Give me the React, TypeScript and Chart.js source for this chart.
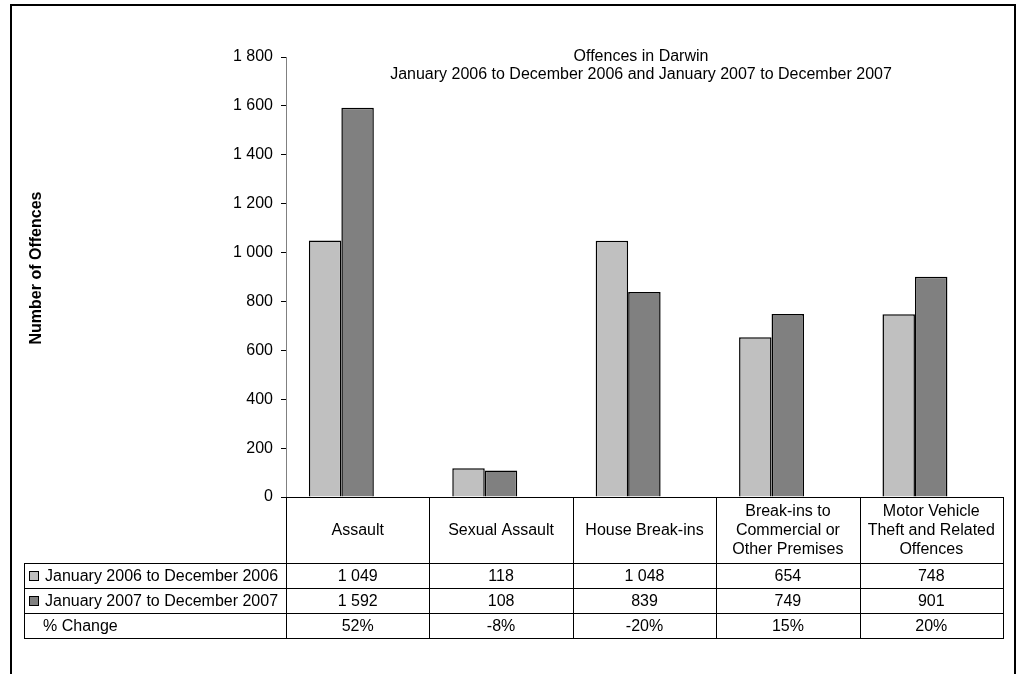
import React, { useEffect, useRef } from 'react';
import { Chart, registerables } from 'chart.js';

Chart.register(...registerables);

const FONT = '"Liberation Sans", Arial, sans-serif';

const categories: string[][] = [
  ['Assault'],
  ['Sexual Assault'],
  ['House Break-ins'],
  ['Break-ins to', 'Commercial or', 'Other Premises'],
  ['Motor Vehicle', 'Theft and Related', 'Offences'],
];
const seriesNames = ['January 2006 to December 2006', 'January 2007 to December 2007'];
const values2006 = [1049, 118, 1048, 654, 748];
const values2007 = [1592, 108, 839, 749, 901];
const pctChange = ['52%', '-8%', '-20%', '15%', '20%'];
const pctLabel = '% Change';
const titleLines = ['Offences in Darwin', 'January 2006 to December 2006 and January 2007 to December 2007'];
const yAxisTitle = 'Number of Offences';
const yMin = 0;
const yMax = 1800;
const yStep = 200;

const seriesColors = ['#C0C0C0', '#808080'];

const fmt = (n: number) => String(n).replace(/\B(?=(\d{3})+(?!\d))/g, ' ');

const decorPlugin = {
  id: 'decor',
  afterDraw(chart: any) {
    const ctx: CanvasRenderingContext2D = chart.ctx;
    const area = chart.chartArea;
    ctx.save();
    // outer frame
    ctx.strokeStyle = '#000';
    ctx.lineWidth = 2;
    ctx.strokeRect(11, 5, 1004, 720);

    // title
    ctx.fillStyle = '#000';
    ctx.font = `16px ${FONT}`;
    ctx.textAlign = 'center';
    ctx.textBaseline = 'middle';
    const tx = 641;
    titleLines.forEach((t, i) => ctx.fillText(t, tx, 57 + i * 18));

    // y axis title
    ctx.save();
    ctx.translate(37, 268);
    ctx.rotate(-Math.PI / 2);
    ctx.font = `bold 16px ${FONT}`;
    ctx.fillText(yAxisTitle, 0, 0);
    ctx.restore();

    // data table
    const n = categories.length;
    const colW = (area.right - area.left) / n;
    const top = Math.round(area.bottom);
    const catH = 66;
    const rowH = 25;
    const legLeft = 24;
    const rowsY = [top + catH, top + catH + rowH, top + catH + 2 * rowH, top + catH + 3 * rowH];
    const L = Math.round(area.left);
    const R = Math.round(area.right);

    ctx.strokeStyle = '#000';
    ctx.lineWidth = 1;
    ctx.beginPath();
    ctx.moveTo(L - 4, top + 0.5);
    ctx.lineTo(R + 1, top + 0.5);
    rowsY.forEach((y) => {
      ctx.moveTo(legLeft, y + 0.5);
      ctx.lineTo(R + 1, y + 0.5);
    });
    for (let i = 0; i <= n; i++) {
      const x = Math.round(area.left + i * colW) + 0.5;
      ctx.moveTo(x, top);
      ctx.lineTo(x, rowsY[3] + 1);
    }
    ctx.moveTo(legLeft + 0.5, rowsY[0]);
    ctx.lineTo(legLeft + 0.5, rowsY[3] + 1);
    ctx.stroke();

    ctx.font = `16px ${FONT}`;
    ctx.fillStyle = '#000';
    ctx.textAlign = 'center';
    ctx.textBaseline = 'middle';
    const lh = 19;
    categories.forEach((lines, i) => {
      const cx = area.left + (i + 0.5) * colW;
      const cy = top + catH / 2 + 1;
      lines.forEach((ln, j) => {
        ctx.fillText(ln, cx, cy + (j - (lines.length - 1) / 2) * lh);
      });
      ctx.fillText(fmt(values2006[i]), cx, rowsY[0] + rowH / 2 + 1);
      ctx.fillText(fmt(values2007[i]), cx, rowsY[1] + rowH / 2 + 1);
      ctx.fillText(pctChange[i], cx, rowsY[2] + rowH / 2 + 1);
    });

    ctx.textAlign = 'left';
    seriesNames.forEach((name, k) => {
      const cy = rowsY[k] + rowH / 2;
      ctx.fillStyle = seriesColors[k];
      ctx.fillRect(29.5, Math.round(cy - 4.5) + 0.5, 9, 9);
      ctx.strokeStyle = '#000';
      ctx.strokeRect(29.5, Math.round(cy - 4.5) + 0.5, 9, 9);
      ctx.fillStyle = '#000';
      ctx.fillText(name, 45, cy + 1);
    });
    ctx.fillText(pctLabel, 43, rowsY[2] + rowH / 2 + 1);
    ctx.restore();
  },
};

export default function App() {
  const ref = useRef<HTMLCanvasElement>(null);
  useEffect(() => {
    if (!ref.current) return;
    Chart.defaults.font.family = FONT;
    const chart = new Chart(ref.current, {
      type: 'bar',
      data: {
        datasets: [
          {
            label: seriesNames[0],
            data: values2006.map((v, i) => ({ x: i, y: v })),
            backgroundColor: seriesColors[0],
            borderColor: '#000',
            borderWidth: 1.5,
          },
          {
            label: seriesNames[1],
            data: values2007.map((v, i) => ({ x: i, y: v })),
            backgroundColor: seriesColors[1],
            borderColor: '#000',
            borderWidth: 1.5,
          },
        ],
      },
      options: {
        animation: false,
        responsive: true,
        maintainAspectRatio: false,
        datasets: { bar: { categoryPercentage: 0.453, barPercentage: 1 } },
        layout: { padding: { left: 0, top: 57, right: 18, bottom: 177 } },
        plugins: { legend: { display: false }, tooltip: { enabled: false }, title: { display: false } },
        scales: {
          x: {
            type: 'linear',
            display: false,
            offset: false,
            grid: { offset: false },
            bounds: 'data',
            min: -0.386,
            max: categories.length - 0.386,
          },
          y: {
            min: yMin,
            max: yMax,
            afterFit(scale: any) {
              scale.width = 286;
            },
            ticks: {
              stepSize: yStep,
              color: '#000',
              font: { size: 16, family: FONT },
              padding: 8,
              callback: (v: any) => fmt(Number(v)),
            },
            grid: { drawOnChartArea: false, drawTicks: true, tickLength: 5, color: '#000' },
            border: { display: true, color: '#808080', width: 1 },
          },
        },
      },
      plugins: [decorPlugin],
    });
    return () => chart.destroy();
  }, []);
  return (
    <div style={{ position: 'fixed', left: 0, top: 0, width: 1021, height: 674, background: '#fff' }}>
      <canvas ref={ref} />
    </div>
  );
}
